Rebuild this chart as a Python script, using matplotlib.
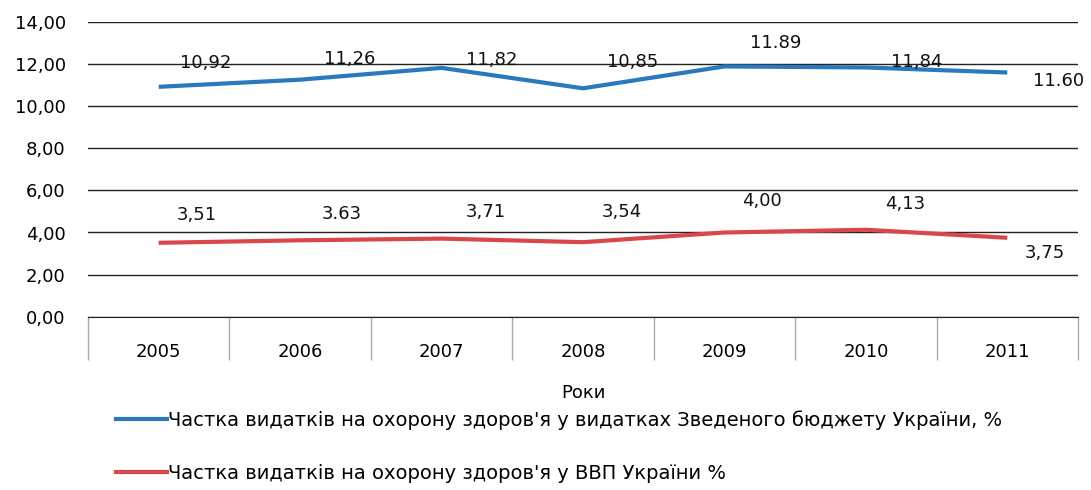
import matplotlib
matplotlib.use("Agg")
import matplotlib.pyplot as plt
import numpy as np

plt.rcParams['font.family'] = ['DejaVu Sans']

# data
years = ['2005', '2006', '2007', '2008', '2009', '2010', '2011']
budget_share = [10.92, 11.26, 11.82, 10.85, 11.89, 11.84, 11.60]
gdp_share = [3.51, 3.63, 3.71, 3.54, 4.00, 4.13, 3.75]
# labels as printed in the source (mixed decimal marks)
budget_labels = ['10,92', '11,26', '11,82', '10,85', '11.89', '11,84', '11.60']
gdp_labels = ['3,51', '3.63', '3,71', '3,54', '4,00', '4,13', '3,75']
yticks = [0, 2, 4, 6, 8, 10, 12, 14]

legend_budget = "Частка видатків на охорону здоров'я у видатках Зведеного бюджету України, %"
legend_gdp = "Частка видатків на охорону здоров'я у ВВП України %"

blue = '#2a78be'
red = '#d9474a'

# label offsets in pixels (dx, dy) relative to each point
budget_off = [(47, 24), (50, 21), (50, 8), (50, 26), (51, 23), (51, 5), (51, -8)]
gdp_off = [(38, 28), (42, 26), (44, 27), (39, 30), (38, 31), (39, 26), (38, -15)]

fig = plt.figure(figsize=(10.91, 4.90), dpi=100)
ax = fig.add_axes([88 / 1091, 1 - 316.7 / 490, 990 / 1091, (316.7 - 22) / 490])

x = np.arange(len(years))
ax.plot(x, budget_share, color=blue, lw=3, solid_capstyle='butt')
ax.plot(x, gdp_share, color=red, lw=3, solid_capstyle='butt')

for xi, v, s, (dx, dy) in zip(x, budget_share, budget_labels, budget_off):
    ax.annotate(s, (xi, v), xytext=(dx, dy), textcoords='offset pixels',
                ha='center', va='center', fontsize=13, color='#111111')
for xi, v, s, (dx, dy) in zip(x, gdp_share, gdp_labels, gdp_off):
    ax.annotate(s, (xi, v), xytext=(dx, dy), textcoords='offset pixels',
                ha='center', va='center', fontsize=13, color='#111111')

ax.set_xlim(-0.5, len(years) - 0.5)
ax.set_ylim(0, 14)
ax.set_yticks(yticks)
ax.set_yticklabels(['%d,00' % t for t in yticks], fontsize=13)
ax.yaxis.grid(True, color='#222222', lw=1.0)
ax.set_axisbelow(True)
ax.tick_params(axis='y', length=0, pad=16)

ax.set_xticks(x)
ax.set_xticklabels(years, fontsize=13)
ax.tick_params(axis='x', which='major', length=0, pad=19)
ax.set_xticks(np.arange(-0.5, len(years)), minor=True)
ax.tick_params(axis='x', which='minor', length=31, width=1, color='#aaaaaa', direction='out')

for sp in ['top', 'right', 'left']:
    ax.spines[sp].set_visible(False)
ax.spines['bottom'].set_color('#222222')

ax.set_xlabel('Роки', fontsize=13, labelpad=14)

h1, = ax.plot([], [], color=blue, lw=3)
h2, = ax.plot([], [], color=red, lw=3)
fig.legend([h1, h2], [legend_budget, legend_gdp], loc='upper left',
           bbox_to_anchor=(116 / 1091, 1 - 410 / 490), frameon=False,
           fontsize=14, handlelength=2.6, handletextpad=0.1,
           labelspacing=1.75, borderpad=0, borderaxespad=0)

fig.savefig('out.png', dpi=100)
